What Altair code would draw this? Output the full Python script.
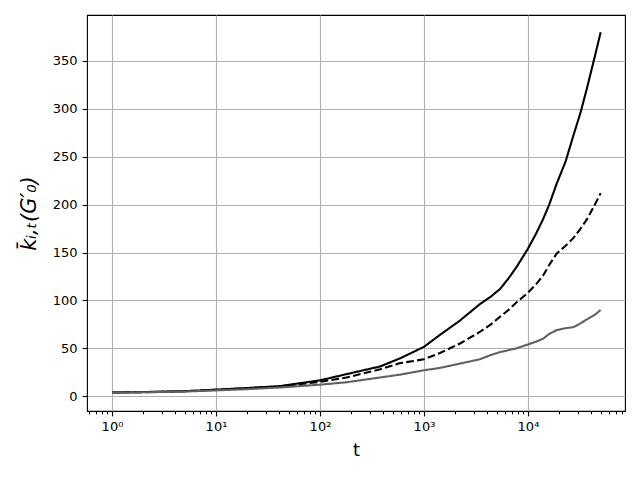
import altair as alt
import pandas as pd

t = [1, 2, 5, 10, 20, 41, 100, 180, 378, 590, 1000, 1425, 2220, 3440, 4400, 5400,
     6500, 7780, 10000, 12000, 14000, 16000, 18900, 23000, 27300, 32000, 36600, 44000, 50000]
solid = [3.8, 4.3, 5.2, 6.8, 8.5, 10.5, 16.5, 23, 31, 39.5, 51.5, 64, 79, 96, 104,
         112, 123, 135, 154, 170, 185, 200, 222, 245, 272, 296, 320, 355, 380]
dashed = [3.8, 4.2, 5.1, 6.6, 8.2, 10, 15, 19.5, 28, 34.5, 38.5, 45, 55, 67, 75,
          83, 90, 98, 108, 117, 126, 137, 149, 157, 165, 175, 184, 200, 212]
gray = [3.6, 4.0, 4.8, 6.0, 7.3, 9, 12, 14.5, 19.5, 22.5, 27, 29.5, 34, 38.5, 43,
        46, 48, 50, 54, 57, 60, 65, 69, 71, 72, 76, 80, 85, 90]

series_names = ["solid", "dashed", "gray"]
series_vals = [solid, dashed, gray]

rows = []
for name, vals in zip(series_names, series_vals):
    for i, (tt, v) in enumerate(zip(t, vals)):
        rows.append({"t": tt, "k": v, "series": name, "order": i})
df = pd.DataFrame(rows)

xticks = []
for k in range(-1, 5):
    for m in range(1, 10):
        v = round(m * 10 ** k, 6)
        if 0.575 <= v <= 85700:
            xticks.append(v)

is_major = "abs(log(datum.value)/LN10 - round(log(datum.value)/LN10)) < 0.000001"
sup = "['⁰','¹','²','³','⁴','⁵']"
label_expr = ("(" + is_major + ") ? ('10' + " + sup +
              "[round(log(datum.value)/LN10)]) : ''")

chart = alt.Chart(df).mark_line(strokeWidth=2.08, clip=True).encode(
    x=alt.X("t:Q",
            scale=alt.Scale(type="log", domain=[0.575, 85700], nice=False),
            axis=alt.Axis(values=xticks, labelExpr=label_expr, title="t",
                          titleFontSize=18, titleFontWeight="normal",
                          titlePadding=8,
                          labelFontSize=13, labelPadding=5, labelFlush=False,
                          labelOverlap=False,
                          tickColor="black", tickWidth=1.1,
                          tickSize={"condition": {"test": is_major, "value": 4.9}, "value": 2.8},
                          gridOpacity={"condition": {"test": is_major, "value": 1}, "value": 0},
                          gridColor="#b0b0b0", gridWidth=1.1,
                          domain=False)),
    y=alt.Y("k:Q",
            scale=alt.Scale(domain=[-15.5, 398], nice=False, zero=False),
            axis=alt.Axis(values=[0, 50, 100, 150, 200, 250, 300, 350],
                          title="k̄ᵢ,ₜ(G′₀)", titleFontSize=21,
                          titleFontWeight="normal", titleFontStyle="italic",
                          titlePadding=13,
                          labelFontSize=13, labelPadding=5,
                          tickColor="black", tickWidth=1.1, tickSize=4.9,
                          gridColor="#b0b0b0", gridWidth=1.1,
                          domain=False)),
    color=alt.Color("series:N",
                    scale=alt.Scale(domain=series_names,
                                    range=["#000000", "#000000", "#606060"]),
                    legend=None),
    strokeDash=alt.StrokeDash("series:N",
                              scale=alt.Scale(domain=series_names,
                                              range=[[1, 0], [7.7, 3.3], [1, 0]]),
                              legend=None),
    order="order:Q",
).properties(
    width=538, height=396,
    autosize=alt.AutoSizeParams(type="none"),
    padding={"left": 79, "top": 7, "right": 7, "bottom": 60},
).configure_view(
    stroke="black", strokeWidth=1.1
).configure_axis(
    labelFont="DejaVu Sans", titleFont="DejaVu Sans", labelColor="black",
    titleColor="black"
)

chart.save("out.html", embed_options={"renderer": "svg", "actions": False})
